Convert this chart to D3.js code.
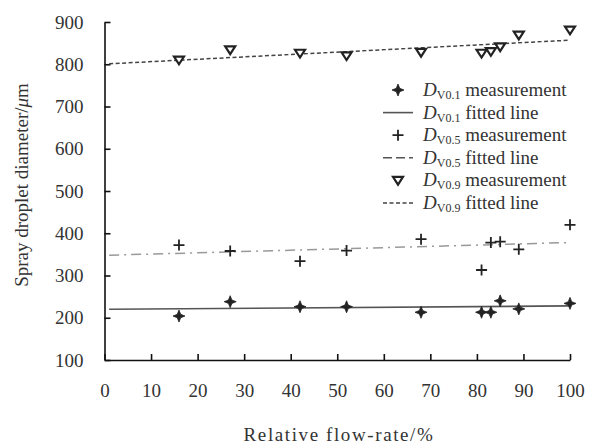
<!DOCTYPE html>
<html>
<head>
<meta charset="utf-8">
<script src="https://cdn.jsdelivr.net/npm/d3@7"></script>
<style>
  body { margin: 0; background: #fff; }
  text { font-family: "Liberation Serif", "DejaVu Serif", serif; fill: #333; }
</style>
</head>
<body>
<div id="d3"></div>
<script>
// relative flow-rate (%) of each measurement
const flowRate = [16, 27, 42, 52, 68, 81, 83, 85, 89, 100];
// droplet diameters (um)
const dv01 = [204, 238, 226, 226, 213, 213, 213, 240, 221, 234];
const dv05 = [372, 358, 334, 359, 386, 313, 378, 380, 362, 420];
const dv09 = [810, 834, 826, 820, 828, 826, 830, 841, 869, 881];
// fitted lines: [x, y] at both ends
const fit01 = [[1, 220], [100, 228]];
const fit05 = [[1, 348], [100, 378]];
const fit09 = [[1, 801], [100, 857]];
const xTicks = [0, 10, 20, 30, 40, 50, 60, 70, 80, 90, 100];
const yTicks = [100, 200, 300, 400, 500, 600, 700, 800, 900];

const margin = { top: 22, right: 25, bottom: 85, left: 104.5 },
  width = 595 - margin.left - margin.right,
  height = 445 - margin.top - margin.bottom;

const svg = d3
  .select("#d3")
  .append("svg")
  .attr("width", 595)
  .attr("height", 445)
  .append("g")
  .attr("transform", `translate(${margin.left},${margin.top})`);

const x = d3.scaleLinear().domain([0, 100]).range([0, width]);
const y = d3.scaleLinear().domain([100, 900]).range([height, 0]);

// axes (ticks point inward)
const xAxis = svg
  .append("g")
  .attr("transform", `translate(0,${height})`)
  .call(d3.axisBottom(x).tickValues(xTicks).tickSize(-6).tickPadding(24).tickSizeOuter(0));
const yAxis = svg
  .append("g")
  .call(d3.axisLeft(y).tickValues(yTicks).tickSize(-6).tickPadding(21).tickSizeOuter(0));

[xAxis, yAxis].forEach((a) => {
  a.select(".domain").attr("stroke", "#111").attr("stroke-width", 1.6);
  a.selectAll(".tick line").attr("stroke", "#111").attr("stroke-width", 1.6);
  a.selectAll(".tick text")
    .attr("fill", "#333")
    .style("font-family", "Liberation Serif")
    .style("font-size", "19px");
});

// axis labels
svg
  .append("text")
  .attr("x", 339 - margin.left)
  .attr("y", height + 81)
  .attr("text-anchor", "middle")
  .style("font-size", "19px")
  .style("letter-spacing", "1.6px")
  .text("Relative flow-rate/%");

svg
  .append("text")
  .attr("transform", `translate(${28 - margin.left},${185 - margin.top}) rotate(-90)`)
  .attr("text-anchor", "middle")
  .style("font-size", "19px")
  .html('Spray droplet diameter/<tspan font-style="italic">μ</tspan>m');

// fitted lines
const line = d3
  .line()
  .x((d) => x(d[0]))
  .y((d) => y(d[1]));

const lineStyles = [
  { data: fit01, stroke: "#555", width: 1.6, dash: null },
  { data: fit05, stroke: "#999", width: 1.5, dash: "10,5,2,5" },
  { data: fit09, stroke: "#444", width: 1.5, dash: "4,2.5" },
];

svg
  .selectAll(".fit")
  .data(lineStyles)
  .join("path")
  .attr("class", "fit")
  .attr("d", (d) => line(d.data))
  .attr("fill", "none")
  .attr("stroke", (d) => d.stroke)
  .attr("stroke-width", (d) => d.width)
  .attr("stroke-dasharray", (d) => d.dash);

// marker shapes
const starPath = (r) => {
  const ri = r * 0.4;
  let p = "";
  for (let i = 0; i < 8; i++) {
    const a = (Math.PI / 4) * i - Math.PI / 2;
    const rr = i % 2 === 0 ? r : ri;
    p += (i === 0 ? "M" : "L") + (rr * Math.cos(a)).toFixed(2) + "," + (rr * Math.sin(a)).toFixed(2);
  }
  return p + "Z";
};
const plusPath = (r) => `M${-r},0H${r}M0,${-r}V${r}`;
const triPath = (r) => `M${-r},${-r * 0.7}H${r}L0,${r * 0.85}Z`;

function drawStar(g) {
  g.append("path").attr("d", starPath(6)).attr("fill", "#222").attr("stroke", "#222").attr("stroke-width", 0.8);
}
function drawPlus(g) {
  g.append("path").attr("d", plusPath(5.5)).attr("stroke", "#222").attr("stroke-width", 1.8).attr("fill", "none");
}
function drawTri(g) {
  g.append("path").attr("d", triPath(5)).attr("stroke", "#222").attr("stroke-width", 2.2).attr("fill", "#fff");
}

const series = [
  { values: dv01, draw: drawStar },
  { values: dv05, draw: drawPlus },
  { values: dv09, draw: drawTri },
];

series.forEach((s) => {
  svg
    .append("g")
    .selectAll("g")
    .data(flowRate.map((f, i) => [f, s.values[i]]))
    .join("g")
    .attr("transform", (d) => `translate(${x(d[0])},${y(d[1])})`)
    .each(function () {
      s.draw(d3.select(this));
    });
});

// legend
const legendItems = [
  { sub: "V0.1", text: "measurement", type: "marker", draw: drawStar },
  { sub: "V0.1", text: "fitted line", type: "line", style: lineStyles[0] },
  { sub: "V0.5", text: "measurement", type: "marker", draw: drawPlus },
  { sub: "V0.5", text: "fitted line", type: "line", style: { stroke: "#555", width: 1.5, dash: "9,4" } },
  { sub: "V0.9", text: "measurement", type: "marker", draw: drawTri },
  { sub: "V0.9", text: "fitted line", type: "line", style: lineStyles[2] },
];

const legend = svg
  .append("g")
  .attr("transform", `translate(${383 - margin.left},${90 - margin.top})`);

legendItems.forEach((d, i) => {
  const row = legend.append("g").attr("transform", `translate(0,${i * 22.6})`);
  if (d.type === "marker") {
    const m = row.append("g").attr("transform", "translate(15,0)");
    d.draw(m);
  } else {
    row
      .append("line")
      .attr("x1", 0)
      .attr("x2", 30)
      .attr("stroke", d.style.stroke)
      .attr("stroke-width", d.style.width)
      .attr("stroke-dasharray", d.style.dash);
  }
  const t = row
    .append("text")
    .attr("x", 40)
    .attr("y", 6)
    .style("font-size", "19px");
  t.append("tspan").attr("font-style", "italic").text("D");
  t.append("tspan").attr("dy", 3).style("font-size", "12px").text(d.sub);
  t.append("tspan").attr("dy", -3).text(" " + d.text);
});
</script>
</body>
</html>
